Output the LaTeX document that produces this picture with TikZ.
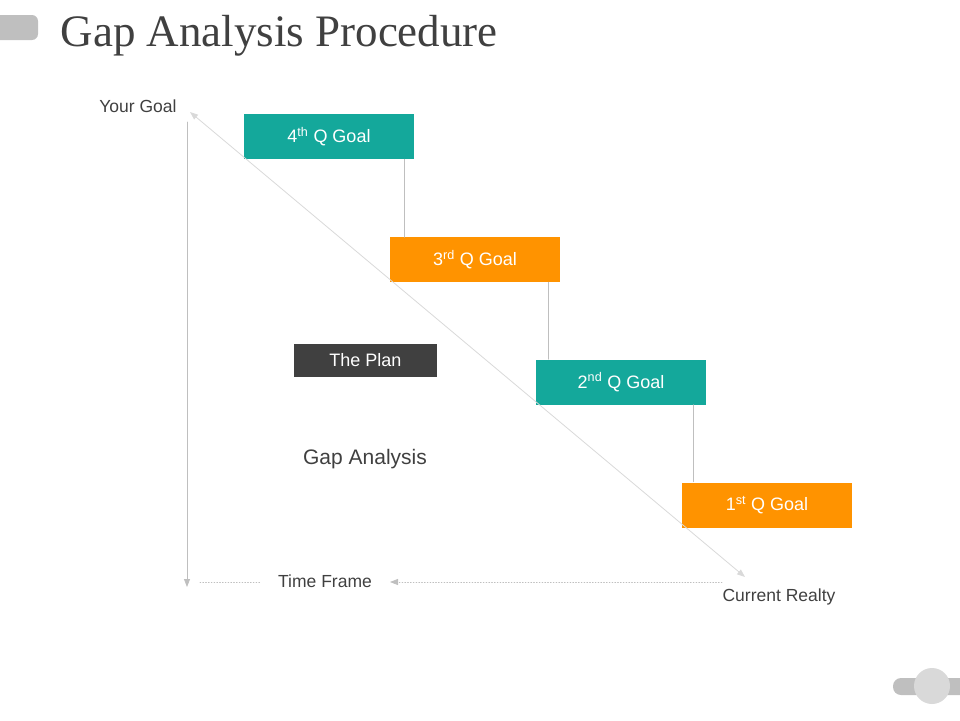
\documentclass[tikz,border=0pt]{standalone}
\usepackage{fontspec}
\setmainfont{Liberation Sans}
\newfontfamily\titlefont{Liberation Serif}
\usetikzlibrary{arrows.meta,positioning}
\definecolor{goalteal}{HTML}{14A89B}
\definecolor{goalorange}{HTML}{FF9300}
\definecolor{plangrey}{HTML}{404040}
\definecolor{axisgrey}{HTML}{BFBFBF}
\tikzset{
  goalbox/.style={minimum width=170pt,minimum height=45pt,inner sep=0pt,text=white,font=\fontsize{18}{20}\selectfont},
  lbl/.style={text=plangrey,font=\fontsize{17.5}{20}\selectfont},
  axis/.style={draw=axisgrey,line width=0.8pt,-{Triangle[length=8pt,width=6pt]}},
  dotline/.style={draw=axisgrey,line width=0.8pt,dotted}
}
\begin{document}
\begin{tikzpicture}[x=1pt,y=-1pt,line cap=round,line join=round]
\useasboundingbox (0,0) rectangle (960,720);
% decorations
\fill[axisgrey,rounded corners=6pt] (-10,15) rectangle (38,40);
\fill[axisgrey,rounded corners=8pt] (893,678) rectangle (970,695);
\fill[gray!30] (932,686) circle (18);
\node[anchor=base west,text=plangrey,font=\titlefont\fontsize{45}{50}\selectfont] (title) at (57,46) {Gap Analysis Procedure};
% goal boxes
\node[goalbox,fill=goalteal] (q4) at (329,136.5) {4\textsuperscript{th} Q Goal};
\node[goalbox,fill=goalorange] (q3) at (475,259.5) {3\textsuperscript{rd} Q Goal};
\node[goalbox,fill=goalteal] (q2) at (621,382) {2\textsuperscript{nd} Q Goal};
\node[goalbox,fill=goalorange] (q1) at (767,505) {1\textsuperscript{st} Q Goal};
\node[fill=plangrey,text=white,minimum width=143pt,minimum height=33pt,inner sep=0pt,font=\fontsize{18}{20}\selectfont] (plan) at (365.5,360.5) {The Plan};
\draw[axisgrey,line width=0.8pt] (q4.south east) ++(-10,0) -- ++(0,78);
\draw[axisgrey,line width=0.8pt] (q3.south east) ++(-12,0) -- ++(0,77);
\draw[axisgrey,line width=0.8pt] (q2.south east) ++(-13,0) -- ++(0,77);
% labels
\node[lbl] (yourgoal) at (138,106) {Your Goal};
\node[lbl,font=\fontsize{21}{24}\selectfont] (gap) at (365,459) {Gap Analysis};
\node[lbl] (time) at (325,581) {Time Frame};
\node[lbl] (real) at (779,597) {Current Realty};
\coordinate (top) at (187,122);
\coordinate (bot) at (187,587);
\coordinate (dstart) at (200,582);
\coordinate (dend) at (260,582);
\coordinate (rstart) at (722,582);
\coordinate (rend) at (390,582);
\coordinate (diagA) at (190,112);
\coordinate (diagB) at (745,577);
% axes
\draw[axis] (top) -- (bot);
\draw[dotline] (dstart) -- (dend);
\draw[dotline,-{Triangle[length=8pt,width=6pt]}] (rstart) -- (rend);
\draw[axis,{Triangle[length=8pt,width=6pt]}-{Triangle[length=8pt,width=6pt]},draw=gray!30] (diagA) -- (diagB);
\end{tikzpicture}
\end{document}
